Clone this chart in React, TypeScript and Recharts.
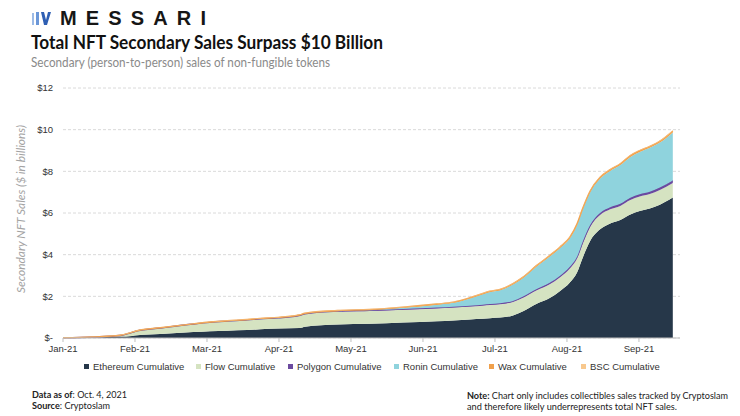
import { AreaChart, Area, XAxis, YAxis, CartesianGrid } from "recharts";

// month position (0 = Jan-21, 1 = Feb-21 ...), cumulative sales in $ billions
const monthPos = [0, 0.42, 0.79, 0.96, 1.03, 1.35, 1.81, 2.04, 2.28, 2.56, 2.74, 2.99, 3.29, 3.36, 3.81, 4.26, 4.72, 5.19, 5.42, 5.65, 5.83, 5.93, 6.07, 6.25, 6.39, 6.58, 6.76, 6.9, 7.04, 7.14, 7.22, 7.32, 7.46, 7.6, 7.74, 7.88, 8.01, 8.15, 8.29, 8.47];
const ethereum = [0.01, 0.03, 0.07, 0.1, 0.13, 0.19, 0.29, 0.33, 0.35, 0.38, 0.42, 0.46, 0.48, 0.54, 0.65, 0.68, 0.74, 0.8, 0.84, 0.89, 0.92, 0.95, 0.98, 1.08, 1.28, 1.64, 1.92, 2.25, 2.67, 3.15, 3.87, 4.65, 5.22, 5.5, 5.66, 5.93, 6.1, 6.22, 6.4, 6.74];
const flow = [0, 0.02, 0.05, 0.17, 0.21, 0.29, 0.38, 0.42, 0.46, 0.49, 0.5, 0.51, 0.6, 0.61, 0.62, 0.62, 0.62, 0.62, 0.62, 0.62, 0.63, 0.63, 0.64, 0.65, 0.65, 0.65, 0.66, 0.66, 0.67, 0.67, 0.67, 0.67, 0.68, 0.68, 0.68, 0.69, 0.69, 0.69, 0.7, 0.7];
const polygon = [0, 0, 0, 0, 0, 0, 0, 0, 0, 0, 0, 0, 0.01, 0.01, 0.02, 0.03, 0.03, 0.04, 0.04, 0.04, 0.05, 0.05, 0.05, 0.05, 0.06, 0.06, 0.07, 0.07, 0.08, 0.08, 0.09, 0.09, 0.1, 0.1, 0.1, 0.11, 0.11, 0.11, 0.12, 0.12];
const ronin = [0, 0, 0, 0, 0, 0, 0, 0, 0, 0, 0, 0, 0, 0, 0, 0.01, 0.06, 0.14, 0.19, 0.35, 0.5, 0.58, 0.62, 0.79, 0.89, 1.09, 1.26, 1.33, 1.37, 1.53, 1.55, 1.58, 1.66, 1.74, 1.86, 1.96, 2.03, 2.11, 2.16, 2.31];
const wax = [0, 0.005, 0.01, 0.01, 0.01, 0.01, 0.01, 0.015, 0.02, 0.02, 0.02, 0.02, 0.025, 0.025, 0.03, 0.03, 0.03, 0.03, 0.03, 0.03, 0.035, 0.035, 0.04, 0.04, 0.04, 0.045, 0.05, 0.05, 0.05, 0.05, 0.055, 0.055, 0.06, 0.06, 0.06, 0.065, 0.065, 0.065, 0.07, 0.07];
const bsc = [0.01, 0.015, 0.02, 0.02, 0.02, 0.02, 0.02, 0.02, 0.02, 0.02, 0.02, 0.02, 0.02, 0.02, 0.02, 0.02, 0.02, 0.02, 0.02, 0.02, 0.02, 0.02, 0.02, 0.02, 0.02, 0.02, 0.02, 0.02, 0.02, 0.02, 0.025, 0.025, 0.025, 0.025, 0.025, 0.025, 0.025, 0.025, 0.03, 0.03];

const monthLabels = ["Jan-21", "Feb-21", "Mar-21", "Apr-21", "May-21", "Jun-21", "Jul-21", "Aug-21", "Sep-21"];
const yTicks = [0, 2, 4, 6, 8, 10, 12];

const series = [
  { key: "eth", name: "Ethereum Cumulative", color: "#263749", values: ethereum, legendX: 84 },
  { key: "flow", name: "Flow Cumulative", color: "#d5e3c1", values: flow, legendX: 196 },
  { key: "polygon", name: "Polygon Cumulative", color: "#6b4a9f", values: polygon, legendX: 288 },
  { key: "ronin", name: "Ronin Cumulative", color: "#8fd3dd", values: ronin, legendX: 394 },
  { key: "wax", name: "Wax Cumulative", color: "#f0a04b", values: wax, legendX: 489 },
  { key: "bsc", name: "BSC Cumulative", color: "#f8c88d", values: bsc, legendX: 581 },
];

const data = monthPos.map((m, i) => {
  const row: Record<string, number> = { m };
  series.forEach((s) => (row[s.key] = s.values[i]));
  return row;
});

const textFont = "Lato, 'Open Sans', sans-serif";
const axisFont = "'Liberation Sans', Arial, sans-serif";

export default function App() {
  return (
    <div style={{ position: "relative", width: 740, height: 416, background: "#fff", overflow: "hidden" }}>
      <style>{`body{margin:0}`}</style>

      {/* Chart */}
      <div style={{ position: "absolute", left: 0, top: 80 }}>
        <AreaChart width={700} height={290} data={data} margin={{ top: 8, right: 20, bottom: 2, left: 0 }}>
          <CartesianGrid vertical={false} stroke="#dadada" strokeDasharray="3 2" />
          <XAxis
            dataKey="m"
            type="number"
            domain={[0, 8.57]}
            ticks={monthLabels.map((_, i) => i)}
            tickFormatter={(v) => monthLabels[v]}
            height={30}
            stroke="#bfbfbf"
            tickSize={4}
            tickMargin={3}
            tick={{ fill: "#333", fontSize: 9.5, fontFamily: axisFont }}
            allowDataOverflow
          />
          <YAxis
            domain={[0, 12]}
            ticks={yTicks}
            tickFormatter={(v) => (v === 0 ? "$-" : `$${v}`)}
            width={63}
            axisLine={false}
            tickLine={false}
            tickSize={0}
            tickMargin={10}
            tick={{ fill: "#333", fontSize: 9.5, fontFamily: axisFont }}
          />
          {series.map((s) => (
            <Area
              key={s.key}
              type="monotone"
              dataKey={s.key}
              stackId="1"
              fill={s.color}
              fillOpacity={1}
              stroke={s.key === "polygon" || s.key === "wax" ? s.color : "none"}
              strokeWidth={s.key === "polygon" || s.key === "wax" ? 1.4 : 0}
              isAnimationActive={false}
            />
          ))}
        </AreaChart>
      </div>

      {/* Header, axis title, legend, notes */}
      <svg width={740} height={416} style={{ position: "absolute", left: 0, top: 0, pointerEvents: "none" }}>
        <g>
          <polygon points="32,13 34,13 34,25 32,25" fill="#9dbbe6" />
          <polygon points="36,12 39,12 39,25 36,25" fill="#6b97d8" />
          <polygon points="41,12 44,12 46,20 48,12 51,12 47,25 44,25" fill="#2f5fb3" />
        </g>
        <text x={60} y={25} fontFamily={axisFont} fontWeight={900} fontSize={20} fill="#161616" textLength={146} lengthAdjust="spacing">
          MESSARI
        </text>
        <text x={31} y={49} fontFamily={textFont} fontWeight={700} fontSize={19} fill="#111" textLength={352} lengthAdjust="spacingAndGlyphs">
          Total NFT Secondary Sales Surpass $10 Billion
        </text>
        <text x={31} y={67} fontFamily={textFont} fontSize={12.5} fill="#8a8a8a" textLength={299} lengthAdjust="spacingAndGlyphs">
          Secondary (person-to-person) sales of non-fungible tokens
        </text>

        <text
          transform="translate(25,209) rotate(-90)"
          textAnchor="middle"
          fontFamily={textFont}
          fontStyle="italic"
          fontSize={12}
          fill="#a3a3a3"
          textLength={168}
          lengthAdjust="spacingAndGlyphs"
        >
          Secondary NFT Sales ($ in billions)
        </text>

        {series.map((s) => (
          <g key={s.key}>
            <rect x={s.legendX} y={364} width={5} height={5} fill={s.color} />
            <text x={s.legendX + 9} y={369.5} fontFamily={axisFont} fontSize={9.5} fill="#333">
              {s.name}
            </text>
          </g>
        ))}

        <text x={32} y={398} fontFamily={textFont} fontSize={9.5} fill="#222" textLength={95} lengthAdjust="spacingAndGlyphs">
          <tspan fontWeight={700}>Data as of</tspan>: Oct. 4, 2021
        </text>
        <text x={32} y={408.5} fontFamily={textFont} fontSize={9.5} fill="#222" textLength={78} lengthAdjust="spacingAndGlyphs">
          <tspan fontWeight={700}>Source</tspan>: Cryptoslam
        </text>
        <text x={467} y={399} fontFamily={textFont} fontSize={9.5} fill="#222" textLength={261} lengthAdjust="spacingAndGlyphs">
          <tspan fontWeight={700}>Note:</tspan> Chart only includes collectibles sales tracked by Cryptoslam
        </text>
        <text x={467} y={409.5} fontFamily={textFont} fontSize={9.5} fill="#222" textLength={210} lengthAdjust="spacingAndGlyphs">
          and therefore likely underrepresents total NFT sales.
        </text>
      </svg>
    </div>
  );
}
